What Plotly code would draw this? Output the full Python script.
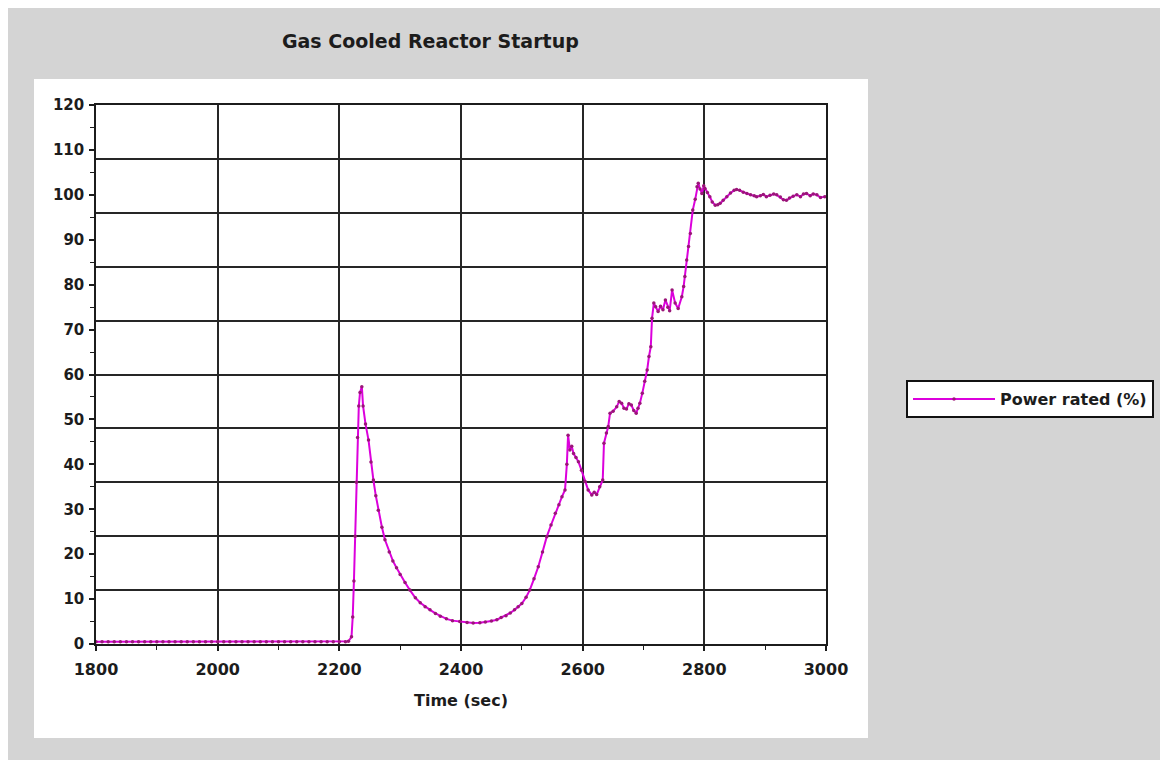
import plotly.graph_objects as go

# ---- data ----
time_s = [
    1800, 1810, 1820, 1830, 1840, 1850, 1860, 1870, 1880, 1890,
    1900, 1910, 1920, 1930, 1940, 1950, 1960, 1970, 1980, 1990,
    2000, 2010, 2020, 2030, 2040, 2050, 2060, 2070, 2080, 2090,
    2100, 2110, 2120, 2130, 2140, 2150, 2160, 2170, 2180, 2190,
    2200, 2210, 2215, 2220, 2222, 2224, 2226, 2228, 2230, 2232,
    2234, 2237, 2239, 2243, 2248, 2252, 2256, 2260, 2264, 2270,
    2275, 2282, 2288, 2294, 2300, 2308, 2316, 2325, 2333, 2341,
    2349, 2358, 2366, 2376, 2386, 2398, 2410, 2420, 2431, 2440,
    2450, 2459, 2466, 2474, 2481, 2488, 2494, 2500, 2507, 2513,
    2520, 2527, 2534, 2541, 2548, 2555, 2561, 2566, 2571, 2574,
    2576, 2579, 2582, 2585, 2589, 2593, 2598, 2604, 2609, 2615,
    2619, 2623, 2628, 2633, 2635, 2639, 2642, 2645, 2650, 2656,
    2660, 2664, 2668, 2672, 2676, 2680, 2684, 2688, 2691, 2694,
    2698, 2702, 2706, 2709, 2712, 2714, 2717, 2720, 2724, 2728,
    2732, 2736, 2740, 2743, 2747, 2752, 2757, 2763, 2766, 2768,
    2771, 2774, 2777, 2781, 2785, 2788, 2790, 2793, 2796, 2799,
    2801, 2805, 2809, 2813, 2818, 2822, 2826, 2831, 2837, 2843,
    2849, 2853, 2858, 2864, 2870, 2876, 2882, 2886, 2892, 2897,
    2902, 2908, 2914, 2919, 2925, 2930, 2935, 2940, 2946, 2952,
    2958, 2963, 2968, 2974, 2979, 2985, 2991, 2998,
]

power_rated = [
    0.5, 0.5, 0.5, 0.5, 0.5, 0.5, 0.5, 0.5, 0.5, 0.5,
    0.5, 0.5, 0.5, 0.5, 0.5, 0.5, 0.5, 0.5, 0.5, 0.5,
    0.5, 0.5, 0.5, 0.5, 0.5, 0.5, 0.5, 0.5, 0.5, 0.5,
    0.5, 0.5, 0.5, 0.5, 0.5, 0.5, 0.5, 0.5, 0.5, 0.5,
    0.5, 0.5, 0.6, 1.6, 6.0, 14.0, 24.0, 36.0, 46.0, 53.0,
    56.0, 57.3, 53.0, 49.0, 45.4, 40.5, 36.5, 33.0, 29.8, 26.0,
    23.2, 20.5, 18.5, 17.0, 15.5, 13.7, 12.0, 10.3, 9.2, 8.3,
    7.6, 6.8, 6.2, 5.6, 5.2, 5.0, 4.8, 4.7, 4.75, 4.9,
    5.1, 5.4, 5.9, 6.3, 6.9, 7.6, 8.3, 9.0, 10.4, 12.0,
    14.5, 17.2, 20.5, 23.9, 26.5, 29.1, 31.0, 32.8, 34.3, 40.0,
    46.5, 43.2, 44.0, 42.4, 41.5, 40.6, 38.7, 36.2, 34.3, 33.2,
    33.8, 33.3, 35.0, 36.5, 44.7, 47.0, 48.4, 51.4, 51.8, 52.8,
    54.0, 53.6, 52.5, 52.3, 53.5, 53.2, 52.0, 51.4, 52.5, 53.6,
    55.8, 58.5, 61.0, 64.0, 66.2, 72.5, 75.9, 75.1, 74.0, 75.2,
    74.4, 76.6, 75.0, 74.2, 78.8, 75.9, 74.7, 77.3, 79.6, 81.8,
    85.5, 88.5, 91.4, 96.6, 99.0, 101.8, 102.6, 101.3, 100.3, 102.0,
    101.4, 100.5, 99.6, 98.4, 97.7, 97.8, 98.1, 98.8, 99.6, 100.4,
    101.0, 101.2, 101.0, 100.6, 100.3, 100.0, 99.8, 99.6, 99.8, 100.1,
    99.6, 99.9, 100.2, 100.0, 99.5, 98.9, 98.8, 99.3, 99.7, 100.0,
    99.6, 100.2, 100.3, 99.8, 100.2, 100.0, 99.4, 99.6,
]

series_name = "Power rated (%)"
chart_title = "Gas Cooled Reactor Startup"
x_title = "Time (sec)"

# ---- styling ----
FONT = "DejaVu Sans"
TXT = "#1c1c1c"
GRID = "#262626"
LINE = "#dc00dc"
MARK = "#9a1678"

fig = go.Figure()
fig.add_trace(go.Scatter(
    x=time_s, y=power_rated, name=series_name,
    mode="lines+markers",
    line=dict(color=LINE, width=2),
    marker=dict(color=MARK, size=3.5),
))
# helper trace so the 12-unit grid axis exists
fig.add_trace(go.Scatter(x=[], y=[], yaxis="y2", showlegend=False, hoverinfo="skip"))

fig.update_layout(
    width=1168, height=760,
    margin=dict(l=88, r=350, t=97, b=124),
    paper_bgcolor="#d4d4d4",
    plot_bgcolor="white",
    showlegend=True,
    title=dict(
        text=chart_title, x=0.458, xref="paper", xanchor="center",
        y=1 - 33 / 760, yref="container", yanchor="middle",
        font=dict(family=FONT, size=19, weight="bold", color=TXT),
    ),
    xaxis=dict(
        range=[1800, 3000], tickmode="linear", tick0=1800, dtick=200,
        ticks="outside", ticklen=5, tickwidth=1.5, tickcolor=TXT,
        showgrid=True, gridcolor=GRID, gridwidth=1.5,
        showline=True, linecolor=TXT, linewidth=1.5, mirror=True,
        zeroline=False, ticklabelstandoff=5,
        tickfont=dict(family=FONT, size=16, weight="bold", color=TXT),
        minor=dict(dtick=100, ticks="outside", ticklen=4, tickwidth=1.2,
                   tickcolor=TXT, showgrid=False),
        title=dict(text=x_title, standoff=17,
                   font=dict(family=FONT, size=16, weight="bold", color=TXT)),
    ),
    yaxis=dict(
        range=[0, 120], tickmode="linear", tick0=0, dtick=10,
        ticks="outside", ticklen=5, tickwidth=1.5, tickcolor=TXT,
        showgrid=False, showline=True, linecolor=TXT, linewidth=1.5,
        mirror=True, zeroline=False, ticklabelstandoff=2,
        tickfont=dict(family=FONT, size=15, weight="bold", color=TXT),
        minor=dict(dtick=5, ticks="outside", ticklen=4, tickwidth=1.2,
                   tickcolor=TXT, showgrid=False),
    ),
    yaxis2=dict(
        overlaying="y", anchor="x", range=[0, 120], tickmode="linear",
        tick0=0, dtick=12, showgrid=True, gridcolor=GRID, gridwidth=1.5,
        ticks="", showticklabels=False, showline=False, zeroline=False,
    ),
    legend=dict(
        x=(906 - 96) / 730, y=(644 - 380) / 539, xanchor="left", yanchor="top",
        bgcolor="white", bordercolor="#111111", borderwidth=2,
        font=dict(family=FONT, size=16, weight="bold", color=TXT),
        itemwidth=82,
    ),
    shapes=[
        dict(type="rect", xref="paper", yref="paper", layer="below",
             x0=(34 - 96) / 730, x1=(868 - 96) / 730,
             y0=(644 - 738) / 539, y1=(644 - 79) / 539,
             fillcolor="white", line=dict(width=0)),
    ],
)

fig.write_html("out.html")
